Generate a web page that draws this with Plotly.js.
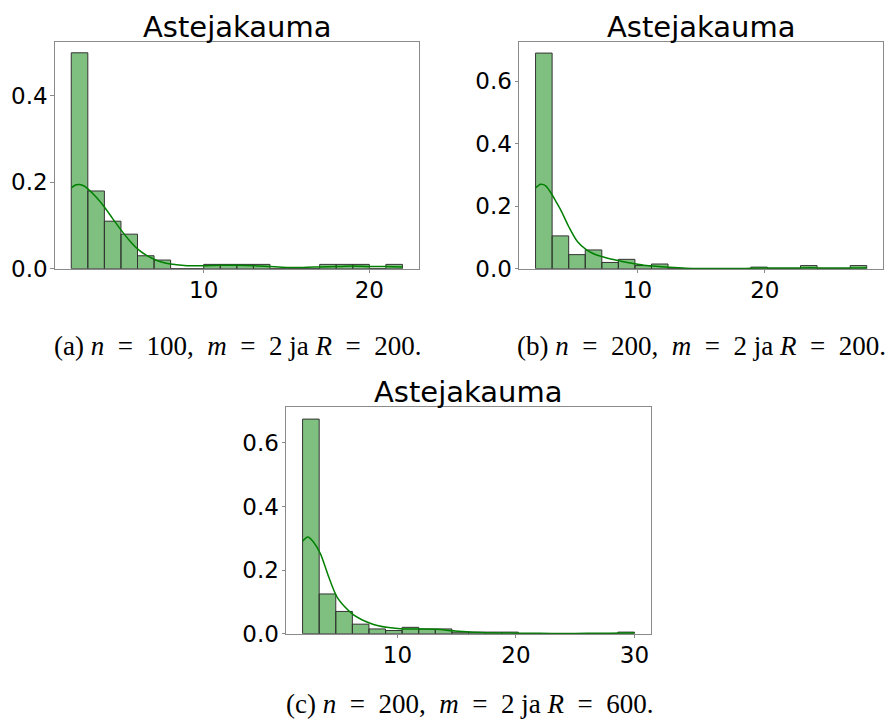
<!DOCTYPE html>
<html>
<head>
<meta charset="utf-8">
<script src="https://cdn.plot.ly/plotly-3.0.1.min.js"></script>
<style>
  html, body { margin: 0; padding: 0; background: #ffffff; }
  #chart { width: 892px; height: 724px; }
</style>
</head>
<body>
<div id="chart"></div>
<script>
// ---------- DATA ----------
// Bin edges (degree) for each panel
const edgesA = [2,3,4,5,6,7,8,9,10,11,12,13,14,15,16,17,18,19,20,21,22];
const edgesB = [2,3.3,4.6,5.9,7.2,8.5,9.8,11.1,12.4,13.7,15,16.3,17.6,18.9,20.2,21.5,22.8,24.1,25.4,26.7,28];
const edgesC = [2,3.4,4.8,6.2,7.6,9,10.4,11.8,13.2,14.6,16,17.4,18.8,20.2,21.6,23,24.4,25.8,27.2,28.6,30];

// Bar heights (probability per bin)
const probA = [0.50,0.18,0.11,0.08,0.03,0.02,0,0,0.01,0.01,0.01,0.01,0,0,0,0.01,0.01,0.01,0,0.01];
const probB = [0.69,0.105,0.045,0.06,0.02,0.03,0.01,0.015,0,0,0,0,0,0.005,0,0,0.01,0,0,0.01];
const probC = [0.675,0.125,0.07,0.03,0.015,0.01,0.02,0.015,0.015,0.005,0.005,0.005,0.005,0,0,0,0,0,0,0.005];

// KDE curves
const kdeAx = [2,2.25,2.5,2.75,3,3.5,4,4.5,5,5.5,6,6.5,7,7.5,8,9,10,11,12,13,14,15,16,17,18,19,20,21,22];
const kdeAy = [0.187,0.194,0.195,0.192,0.185,0.166,0.143,0.116,0.090,0.066,0.046,0.032,0.022,0.015,0.011,0.007,0.007,0.008,0.008,0.007,0.005,0.003,0.003,0.004,0.005,0.006,0.005,0.005,0.004];
const kdeBx = [2,2.4,2.8,3.2,3.6,4,4.6,5.3,6,6.6,7.2,7.9,8.6,9.2,9.9,10.5,11.2,12.5,13.8,15,17,18.5,19.5,20.5,22,23.5,25,26.5,28];
const kdeBy = [0.258,0.270,0.265,0.243,0.215,0.186,0.135,0.086,0.060,0.047,0.039,0.031,0.025,0.020,0.015,0.011,0.0085,0.0045,0.0015,0.0005,0.0003,0.001,0.002,0.002,0.002,0.003,0.002,0.002,0.003];
const kdeCx = [2,2.45,2.9,3.5,4.2,4.9,5.6,6.3,7,7.7,8.4,9.1,10.5,11.9,13.3,14.7,16.1,17.5,19,21,23,25,27,29,30];
const kdeCy = [0.291,0.304,0.289,0.252,0.179,0.116,0.083,0.059,0.044,0.033,0.025,0.020,0.015,0.015,0.014,0.009,0.005,0.003,0.002,0.0015,0.001,0.001,0.0015,0.002,0.002];

// Tick labels
const xTicksAB = [10,20];
const xTicksC = [10,20,30];
const yTicksA = [0,0.2,0.4];
const yTicksA_text = ["0.0","0.2","0.4"];
const yTicksBC = [0,0.2,0.4,0.6];
const yTicksBC_text = ["0.0","0.2","0.4","0.6"];

const titleText = "Astejakauma";
const captionA = "(a) <i>n</i>&nbsp;&nbsp;=&nbsp;&nbsp;100,&nbsp;&nbsp;<i>m</i>&nbsp;&nbsp;=&nbsp;&nbsp;2 ja <i>R</i>&nbsp;&nbsp;=&nbsp;&nbsp;200.";
const captionB = "(b) <i>n</i>&nbsp;&nbsp;=&nbsp;&nbsp;200,&nbsp;&nbsp;<i>m</i>&nbsp;&nbsp;=&nbsp;&nbsp;2 ja <i>R</i>&nbsp;&nbsp;=&nbsp;&nbsp;200.";
const captionC = "(c) <i>n</i>&nbsp;&nbsp;=&nbsp;&nbsp;200,&nbsp;&nbsp;<i>m</i>&nbsp;&nbsp;=&nbsp;&nbsp;2 ja <i>R</i>&nbsp;&nbsp;=&nbsp;&nbsp;600.";

// ---------- BUILD ----------
const W = 892, H = 724;
const barFill = 'rgba(0,128,0,0.5)';
const barEdge = '#333333';
const kdeColor = '#008000';
const frameColor = '#8a8a8a';

function centers(e){ const c=[]; for(let i=0;i<e.length-1;i++) c.push((e[i]+e[i+1])/2); return c; }
function widths(e){ const w=[]; for(let i=0;i<e.length-1;i++) w.push(e[i+1]-e[i]); return w; }

function histTrace(edges, probs, xa, ya){
  return {type:'bar', x:centers(edges), y:probs, width:widths(edges), xaxis:xa, yaxis:ya,
    marker:{color:barFill, line:{color:barEdge, width:1}}, hoverinfo:'skip', showlegend:false};
}
function kdeTrace(xs, ys, xa, ya){
  return {type:'scatter', mode:'lines', x:xs, y:ys, xaxis:xa, yaxis:ya,
    line:{color:kdeColor, width:1.5, shape:'spline', smoothing:0.8}, hoverinfo:'skip', showlegend:false};
}

const data = [
  histTrace(edgesA, probA, 'x', 'y'), kdeTrace(kdeAx, kdeAy, 'x', 'y'),
  histTrace(edgesB, probB, 'x2', 'y2'), kdeTrace(kdeBx, kdeBy, 'x2', 'y2'),
  histTrace(edgesC, probC, 'x3', 'y3'), kdeTrace(kdeCx, kdeCy, 'x3', 'y3')
];

const tickFont = {family:'DejaVu Sans, sans-serif', size:23, color:'#000000'};
function xAxis(px0, px1, range, ticks, anchor){
  return {domain:[px0/W, px1/W], range:range, anchor:anchor, tickvals:ticks, ticktext:ticks.map(String),
    showline:true, mirror:true, linecolor:frameColor, linewidth:1, ticks:'outside', ticklen:3.5,
    tickwidth:1, tickcolor:frameColor, showgrid:false, zeroline:false, tickfont:tickFont, fixedrange:true,
    ticklabelstandoff:-3};
}
function yAxis(py0, py1, range, ticks, labels, anchor){
  return {domain:[1-py1/H, 1-py0/H], range:range, anchor:anchor, tickvals:ticks, ticktext:labels,
    showline:true, mirror:true, linecolor:frameColor, linewidth:1, ticks:'outside', ticklen:3.5,
    tickwidth:1, tickcolor:frameColor, showgrid:false, zeroline:false, tickfont:tickFont, fixedrange:true,
    ticklabelstandoff:-2};
}

const titleFont = {family:'DejaVu Sans, sans-serif', size:29, color:'#000000'};
const capFont = {family:'Liberation Serif, Times New Roman, serif', size:27, color:'#000000'};

function ann(text, cx, cy, font){
  return {text:text, xref:'paper', yref:'paper', x:cx/W, y:1-cy/H, xanchor:'center', yanchor:'middle',
    showarrow:false, font:font};
}

const layout = {
  width:W, height:H, margin:{l:0,r:0,t:0,b:0},
  paper_bgcolor:'#ffffff', plot_bgcolor:'#ffffff', showlegend:false, bargap:0,
  xaxis: xAxis(54.7, 419, [1, 23], xTicksAB, 'y'),
  yaxis: yAxis(42, 268.7, [0, 0.525], yTicksA, yTicksA_text, 'x'),
  xaxis2: xAxis(519, 883.3, [0.7, 29.3], xTicksAB, 'y2'),
  yaxis2: yAxis(42.3, 268.7, [0, 0.7245], yTicksBC, yTicksBC_text, 'x2'),
  xaxis3: xAxis(286, 651, [0.6, 31.4], xTicksC, 'y3'),
  yaxis3: yAxis(406.7, 633.7, [0, 0.714], yTicksBC, yTicksBC_text, 'x3'),
  annotations: [
    ann(titleText, 236.5, 26.7, titleFont),
    ann(titleText, 701, 26.7, titleFont),
    ann(titleText, 468.3, 391.7, titleFont),
    ann(captionA, 237.5, 346, capFont),
    ann(captionB, 701, 346, capFont),
    ann(captionC, 470, 704, capFont)
  ]
};

Plotly.newPlot('chart', data, layout, {displayModeBar:false, staticPlot:true});
</script>
</body>
</html>
